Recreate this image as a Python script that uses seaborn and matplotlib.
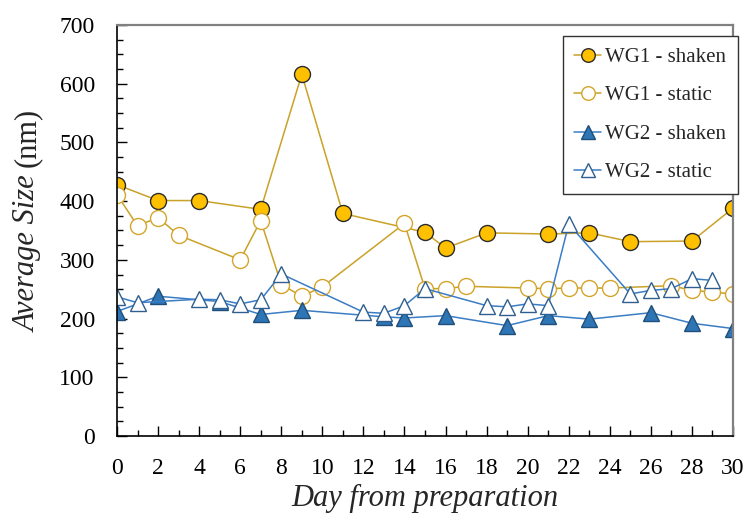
import matplotlib
matplotlib.use("Agg")
import matplotlib.pyplot as plt
import seaborn as sns
import pandas as pd
from matplotlib.ticker import MultipleLocator
from matplotlib.offsetbox import TextArea, VPacker, AnchoredOffsetbox

# ---- data ----
wg1_shaken_day = [0, 2, 4, 7, 9, 11, 15, 16, 18, 21, 23, 25, 28, 30]
wg1_shaken_val = [428, 401, 401, 386, 616, 379, 347, 320, 346, 344, 346, 331, 332, 388]

wg1_static_day = [0, 1, 2, 3, 6, 7, 8, 9, 10, 14, 15, 16, 17, 20, 21, 22, 23, 24, 27, 28, 29, 30]
wg1_static_val = [411, 358, 372, 342, 300, 367, 258, 238, 254, 362, 251, 251, 255, 252, 251, 252,
                  252, 252, 256, 248, 245, 242]

wg2_shaken_day = [0, 2, 5, 7, 9, 13, 14, 16, 19, 21, 23, 26, 28, 30]
wg2_shaken_val = [212, 238, 229, 207, 214, 203, 201, 205, 188, 205, 199, 210, 192, 183]

wg2_static_day = [0, 1, 4, 5, 6, 7, 8, 12, 13, 14, 15, 18, 19, 20, 21, 22, 25, 26, 27, 28, 29]
wg2_static_val = [237, 227, 233, 232, 225, 232, 276, 211, 209, 222, 251, 222, 220, 225, 222, 361,
                  242, 248, 251, 268, 265]

series_names = ["WG1 - shaken", "WG1 - static", "WG2 - shaken", "WG2 - static"]

sns.set_theme(style="white")
plt.rcParams["font.family"] = ["Liberation Serif", "DejaVu Serif"]

fig = plt.figure(figsize=(7.43, 5.13), dpi=100)
ax = fig.add_axes([117 / 743, 77 / 513, 616 / 743, 411 / 513])

styles = [
    dict(days=wg1_shaken_day, vals=wg1_shaken_val, marker="o", line="#C9A227",
         mfc="#FFC000", mec="#2B2B2B", ms=11.5),
    dict(days=wg1_static_day, vals=wg1_static_val, marker="o", line="#C9A227",
         mfc="white", mec="#D4A52A", ms=11.5),
    dict(days=wg2_shaken_day, vals=wg2_shaken_val, marker="^", line="#3B7DC4",
         mfc="#2E75B6", mec="#1F4E79", ms=12),
    dict(days=wg2_static_day, vals=wg2_static_val, marker="^", line="#3B7DC4",
         mfc="white", mec="#2E5F8F", ms=12),
]

for name, st in zip(series_names, styles):
    df = pd.DataFrame({"day": st["days"], "size": st["vals"]})
    sns.lineplot(data=df, x="day", y="size", ax=ax, color=st["line"], linewidth=1.1,
                 marker=st["marker"], markersize=st["ms"], markerfacecolor=st["mfc"],
                 markeredgecolor=st["mec"], markeredgewidth=1.0, label=name,
                 estimator=None, sort=False)

ax.set_xlim(0, 30)
ax.set_ylim(0, 700)
ax.xaxis.set_major_locator(MultipleLocator(2))
ax.xaxis.set_minor_locator(MultipleLocator(1))
ax.yaxis.set_major_locator(MultipleLocator(100))
ax.yaxis.set_minor_locator(MultipleLocator(25))

ax.tick_params(axis="both", which="major", direction="in", length=7, width=1.0,
               colors="black", labelsize=17, left=True, bottom=True)
ax.tick_params(axis="both", which="minor", direction="in", length=4, width=1.0,
               colors="black", left=True, bottom=True)
ax.tick_params(axis="y", which="major", pad=16)
ax.tick_params(axis="x", which="major", pad=15.5)

for s in ["left", "bottom"]:
    ax.spines[s].set_color("black")
    ax.spines[s].set_linewidth(1.2)
for s in ["top", "right"]:
    ax.spines[s].set_color("#808080")
    ax.spines[s].set_linewidth(1.6)

ax.set_xlabel("Day from preparation", fontsize=22, style="italic", labelpad=4)
ax.set_ylabel("")

# y label: italic "Average Size" + upright "(nm)"
ta1 = TextArea("Average Size ", textprops=dict(fontsize=22, style="italic", rotation=90))
ta2 = TextArea("(nm)", textprops=dict(fontsize=22, rotation=90))
box = VPacker(children=[ta2, ta1], align="center", pad=0, sep=0)
anch = AnchoredOffsetbox(loc="center", child=box, pad=0, frameon=False,
                         bbox_to_anchor=(-0.145, 0.526), bbox_transform=ax.transAxes,
                         borderpad=0)
ax.add_artist(anch)

leg = ax.legend(loc="upper right", bbox_to_anchor=(1.008, 0.973), fontsize=15,
                frameon=True, fancybox=False, edgecolor="#333333", framealpha=1,
                handlelength=1.3, handletextpad=0.2, borderpad=0.55, labelspacing=0.9,
                borderaxespad=0, markerscale=0.85)
leg.get_frame().set_linewidth(1.0)

fig.savefig("out.png", dpi=100)
